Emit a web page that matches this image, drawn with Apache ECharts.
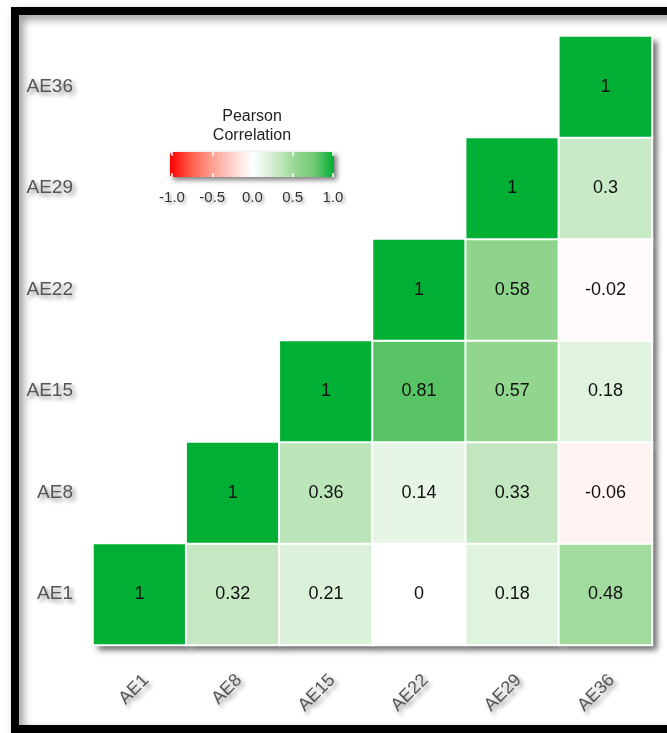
<!DOCTYPE html>
<html>
<head>
<meta charset="utf-8">
<script src="https://cdn.jsdelivr.net/npm/echarts@6/dist/echarts.min.js"></script>
<style>
html,body{margin:0;padding:0;background:#fff;}
#chart{width:667px;height:733px;}
</style>
</head>
<body>
<div id="chart"></div>
<script>
// ---- data ----
const categories = ['AE1', 'AE8', 'AE15', 'AE22', 'AE29', 'AE36'];
// each row: correlation of the row variable with each column variable (null = not shown)
const rowAE1  = [1, 0.32, 0.21, 0, 0.18, 0.48];
const rowAE8  = [null, 1, 0.36, 0.14, 0.33, -0.06];
const rowAE15 = [null, null, 1, 0.81, 0.57, 0.18];
const rowAE22 = [null, null, null, 1, 0.58, -0.02];
const rowAE29 = [null, null, null, null, 1, 0.3];
const rowAE36 = [null, null, null, null, null, 1];
const legendTicks = [-1.0, -0.5, 0.0, 0.5, 1.0];
const legendTitle = 'Pearson\nCorrelation';

const rows = [rowAE1, rowAE8, rowAE15, rowAE22, rowAE29, rowAE36];
const heatData = [];
for (let r = 0; r < rows.length; r++) {
  for (let c = 0; c < categories.length; c++) {
    const v = rows[r][c];
    if (v !== null) heatData.push([c, r, v]);
  }
}

const FONT = '"Liberation Sans", Arial, sans-serif';
const labelShadow = {
  textShadowColor: 'rgba(0,0,0,0.45)',
  textShadowBlur: 4,
  textShadowOffsetX: 3,
  textShadowOffsetY: 3
};
const smallShadow = {
  textShadowColor: 'rgba(0,0,0,0.35)',
  textShadowBlur: 3,
  textShadowOffsetX: 2,
  textShadowOffsetY: 2
};

const chart = echarts.init(document.getElementById('chart'), null, {renderer: 'canvas'});
chart.setOption({
  backgroundColor: '#fff',
  animation: false,
  graphic: [
    {
      type: 'rect',
      z: 100,
      silent: true,
      shape: {x: 15, y: 11, width: 720, height: 718},
      style: {
        fill: null,
        stroke: '#000',
        lineWidth: 8,
        shadowColor: 'rgba(0,0,0,0.45)',
        shadowBlur: 8,
        shadowOffsetX: 4,
        shadowOffsetY: 4
      }
    },
    {
      type: 'rect',
      z: 1,
      silent: true,
      shape: {x: 170, y: 152, width: 164, height: 25},
      style: {
        fill: '#fff',
        shadowColor: 'rgba(0,0,0,0.5)',
        shadowBlur: 5,
        shadowOffsetX: 3,
        shadowOffsetY: 3
      }
    },
    {
      type: 'text',
      x: 252,
      y: 107,
      z: 10,
      silent: true,
      style: {
        text: legendTitle,
        align: 'center',
        verticalAlign: 'top',
        font: '16px ' + FONT,
        fill: '#222',
        lineHeight: 19,
        shadowColor: 'rgba(0,0,0,0.35)',
        shadowBlur: 3,
        shadowOffsetX: 2,
        shadowOffsetY: 2
      }
    }
  ],
  grid: [
    {left: 93, right: 15, top: 36, bottom: 88, containLabel: false},
    {left: 172, width: 161, top: 152, height: 25, containLabel: false}
  ],
  xAxis: [
    {
      type: 'category',
      gridIndex: 0,
      data: categories,
      axisLine: {show: false},
      axisTick: {show: false},
      splitLine: {show: false},
      axisLabel: Object.assign({
        rotate: 45,
        margin: 26,
        verticalAlign: 'top',
        fontSize: 18,
        fontFamily: FONT,
        color: '#555'
      }, labelShadow)
    },
    {
      type: 'value',
      gridIndex: 1,
      position: 'bottom',
      min: -1,
      max: 1,
      interval: 0.5,
      z: 10,
      axisLine: {show: false},
      splitLine: {show: false},
      axisTick: {show: true, inside: true, length: 4, lineStyle: {color: '#fff', width: 1.5}},
      axisLabel: Object.assign({
        margin: 13,
        fontSize: 15,
        fontFamily: FONT,
        color: '#333',
        formatter: v => v.toFixed(1)
      }, smallShadow)
    },
    {
      type: 'value',
      gridIndex: 1,
      position: 'top',
      min: -1,
      max: 1,
      interval: 0.5,
      z: 10,
      axisLine: {show: false},
      splitLine: {show: false},
      axisTick: {show: true, inside: true, length: 4, lineStyle: {color: '#fff', width: 1.5}},
      axisLabel: {show: false}
    }
  ],
  yAxis: [
    {
      type: 'category',
      gridIndex: 0,
      data: categories,
      axisLine: {show: false},
      axisTick: {show: false},
      splitLine: {show: false},
      axisLabel: Object.assign({
        margin: 20,
        fontSize: 19,
        fontFamily: FONT,
        color: '#555'
      }, labelShadow)
    },
    {
      type: 'value',
      gridIndex: 1,
      min: 0,
      max: 1,
      show: false
    }
  ],
  visualMap: {
    type: 'continuous',
    seriesIndex: 0,
    min: -1,
    max: 1,
    orient: 'horizontal',
    left: 170,
    top: 152,
    itemWidth: 25,
    itemHeight: 164,
    padding: 0,
    z: 5,
    calculable: false,
    text: null,
    inRange: {
      color: ['#FF0000', '#FF5A4A', '#FF9C8F', '#FFD0C9', '#FFFFFF', '#D4EED2', '#9DD999', '#72C974', '#00AF33']
    }
  },
  series: [
    {
      type: 'heatmap',
      xAxisIndex: 0,
      yAxisIndex: 0,
      z: 3,
      data: heatData,
      itemStyle: {
        borderColor: '#fff',
        borderWidth: 2
      },
      label: {
        show: true,
        fontSize: 18,
        fontFamily: FONT,
        color: '#111',
        formatter: p => String(p.value[2])
      },
      emphasis: {disabled: true}
    },
    {
      // shadow layer drawn under the cells (same cells; only the drop shadow shows)
      type: 'heatmap',
      xAxisIndex: 0,
      yAxisIndex: 0,
      z: 1,
      silent: true,
      data: heatData,
      itemStyle: {
        color: '#bbb',
        shadowColor: 'rgba(0,0,0,0.6)',
        shadowBlur: 6,
        shadowOffsetX: 5,
        shadowOffsetY: 5
      },
      label: {show: false},
      emphasis: {disabled: true}
    },
    {
      type: 'scatter',
      xAxisIndex: 1,
      yAxisIndex: 1,
      data: [],
      silent: true
    }
  ]
});
</script>
</body>
</html>
